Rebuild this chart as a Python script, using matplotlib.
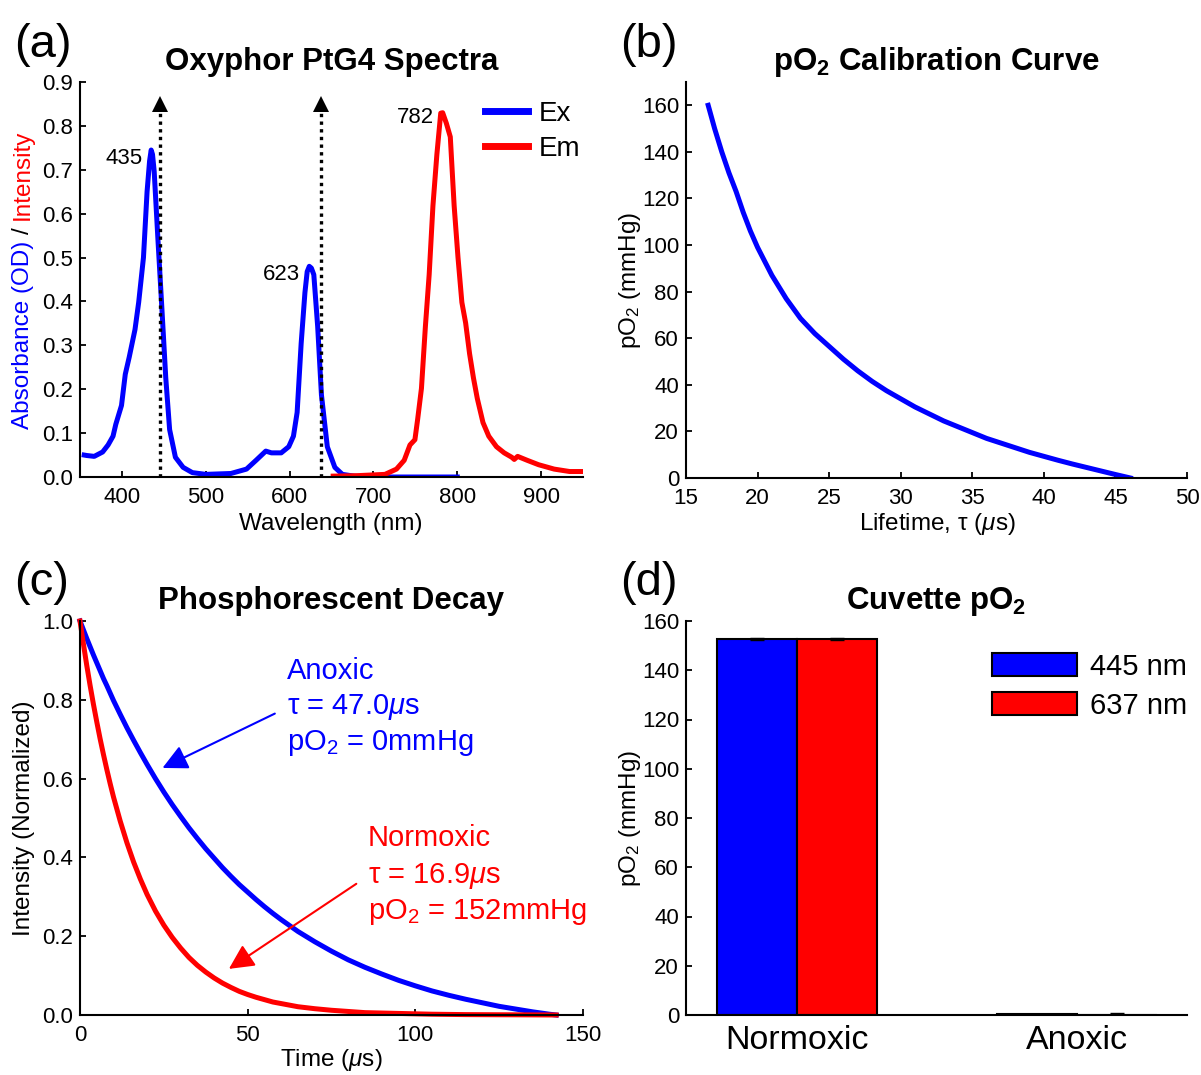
import numpy as np
import matplotlib
matplotlib.use("Agg")
import matplotlib.pyplot as plt
from matplotlib.lines import Line2D

plt.rcParams['font.family'] = ['Liberation Sans', 'DejaVu Sans']
plt.rcParams['mathtext.fontset'] = 'custom'
plt.rcParams['mathtext.rm'] = 'Liberation Sans'
plt.rcParams['mathtext.it'] = 'Liberation Sans:italic'
plt.rcParams['mathtext.bf'] = 'Liberation Sans:bold'

# (a) absorbance / emission spectra
ex_wl = [355, 358, 367, 377, 383.5, 389.4, 392.7, 399.5, 404, 408.7, 415.6, 420, 425.7, 430,
         433, 434.9, 436.5, 438.5, 443, 447.7, 452.3, 456.9, 463.8, 473, 484, 500, 530, 548.6,
         560, 571.6, 578.4, 590, 599, 604.6, 609, 613.8, 618.3, 621, 623.5, 626, 628.9, 633.5,
         638, 645, 654, 663, 677, 700, 800]
ex_od = [0.05, 0.049, 0.047, 0.057, 0.073, 0.093, 0.12, 0.163, 0.234, 0.273, 0.336, 0.398, 0.50,
         0.65, 0.72, 0.745, 0.735, 0.696, 0.54, 0.383, 0.226, 0.108, 0.045, 0.022, 0.010, 0.006,
         0.008, 0.018, 0.038, 0.059, 0.055, 0.055, 0.069, 0.093, 0.147, 0.304, 0.42, 0.468,
         0.48, 0.476, 0.461, 0.343, 0.187, 0.069, 0.022, 0.006, 0.002, 0.0, 0.0]
em_wl = [652, 680, 713.8, 727.5, 736.7, 743.6, 749.5, 752.8, 757.3, 762, 766.5, 771, 775.7,
         780.3, 782.6, 787, 791.7, 796.3, 800.9, 805.5, 810, 814.7, 819.3, 823.9, 830.7, 837.6,
         846.8, 856, 865, 868, 872, 883.5, 897, 915.6, 934, 950]
em_int = [0.002, 0.003, 0.006, 0.018, 0.038, 0.073, 0.085, 0.132, 0.202, 0.343, 0.461, 0.618,
          0.735, 0.829, 0.83, 0.806, 0.775, 0.618, 0.50, 0.398, 0.351, 0.281, 0.226, 0.179,
          0.124, 0.093, 0.069, 0.055, 0.045, 0.040, 0.047, 0.038, 0.028, 0.018, 0.0125, 0.0125]
peak_wl = [435, 623, 782]
peak_val = [0.725, 0.462, 0.818]
laser_wl = [445, 637]

# (b) calibration curve
tau = [16.55, 17.0, 17.5, 18.0, 18.5, 19.0, 19.5, 20.0, 21.0, 22.0, 23.0, 24.0, 25.0, 26.0,
       27.0, 28.0, 29.0, 30.0, 31.0, 32.0, 33.0, 34.0, 35.0, 36.0, 37.0, 38.0, 39.0, 40.0,
       41.0, 42.0, 43.0, 44.0, 45.0, 46.05]
po2 = [160, 150, 140, 131, 123, 114, 106, 99, 87, 77, 68.5, 62, 56.5, 51, 46, 41.5, 37.5, 34,
       30.5, 27.5, 24.5, 22, 19.5, 17, 15, 13, 11, 9.3, 7.6, 6, 4.5, 3, 1.5, 0.0]

# (c) decay curves
t_us = [0, 1, 2, 3, 4, 5, 6, 7, 8, 9, 10, 12, 14, 16, 18, 20, 22.5, 25, 27.5, 30, 32.5, 35,
        37.5, 40, 42.5, 45, 47.5, 50, 52.5, 55, 57.5, 60, 65, 70, 75, 80, 85, 90, 95, 100,
        105, 110, 115, 120, 125, 130, 135, 140, 142]
anoxic = [1.0, 0.978, 0.956, 0.935, 0.914, 0.894, 0.874, 0.854, 0.836, 0.817, 0.798, 0.763,
          0.729, 0.697, 0.666, 0.636, 0.600, 0.566, 0.534, 0.504, 0.475, 0.448, 0.422, 0.398,
          0.374, 0.352, 0.331, 0.312, 0.293, 0.275, 0.258, 0.242, 0.212, 0.186, 0.162, 0.140,
          0.121, 0.104, 0.088, 0.074, 0.061, 0.050, 0.040, 0.031, 0.022, 0.015, 0.008, 0.002,
          0.0]
normoxic = [1.0, 0.943, 0.888, 0.837, 0.789, 0.744, 0.701, 0.661, 0.623, 0.587, 0.553, 0.492,
            0.437, 0.388, 0.345, 0.306, 0.264, 0.228, 0.197, 0.170, 0.146, 0.126, 0.109,
            0.094, 0.081, 0.070, 0.060, 0.052, 0.045, 0.039, 0.033, 0.029, 0.021, 0.016,
            0.012, 0.009, 0.006, 0.005, 0.004, 0.003, 0.002, 0.0015, 0.001, 0.0008, 0.0006,
            0.0005, 0.0003, 0.0001, 0.0]

# (d) cuvette pO2
conditions = ['Normoxic', 'Anoxic']
po2_445 = [152.6, 0.3]
po2_637 = [152.6, 0.2]
err_445 = [0.3, 0.2]
err_637 = [0.3, 0.5]

BLUE = (0, 0, 1)
RED = (1, 0, 0)
TICK_FS = 16
LAB_FS = 17.5
TITLE_FS = 22.5

fig = plt.figure(figsize=(12.01, 10.75), dpi=100)
W, H = 1201, 1075


def px_axes(l, t, r, b):
    return fig.add_axes([l / W, 1 - b / H, (r - l) / W, (b - t) / H])


def style(ax):
    for s in ['top', 'right']:
        ax.spines[s].set_visible(False)
    for s in ['left', 'bottom']:
        ax.spines[s].set_linewidth(1.5)
    ax.tick_params(direction='in', length=4.3, width=1.3, labelsize=TICK_FS)
    ax.tick_params(axis='x', pad=7)
    ax.tick_params(axis='y', pad=5)


def ylabel_parts(ax, parts, x_px, fs=LAB_FS):
    r = fig.canvas.get_renderer()
    texts = [fig.text(0, 0, s, color=c, fontsize=fs, rotation=90, ha='center', va='bottom')
             for s, c in parts]
    hs = [t.get_window_extent(r).height for t in texts]
    gap = 0.278 * fs * fig.dpi / 72
    total = sum(hs) + gap * (len(parts) - 1)
    bb = ax.get_position()
    y = (bb.y0 + bb.y1) / 2 * H - total / 2
    for t, h in zip(texts, hs):
        t.set_position((x_px / W, y / H))
        y += h + gap


def xlabel_at(text, x_px, y_px, fs=LAB_FS):
    fig.text(x_px / W, 1 - y_px / H, text, fontsize=fs, ha='center', va='center')


axa = px_axes(80, 82, 583, 477)
axb = px_axes(686, 82, 1187, 478)
axc = px_axes(80, 621, 583, 1015)
axd = px_axes(686, 621, 1187, 1015)

# ---- (a)
style(axa)
axa.plot(ex_wl, ex_od, color=BLUE, lw=3.6, solid_joinstyle='round')
axa.plot(em_wl, em_int, color=RED, lw=3.6, solid_joinstyle='round')
for wl in laser_wl:
    axa.plot([wl, wl], [0, 0.835], color='k', lw=2.4, dashes=(1.0, 1.3))
    axa.plot([wl], [0.849], marker='^', color='k', markersize=12, markeredgewidth=0)
for wl, v in zip(peak_wl, peak_val):
    axa.text(wl - 10, v, str(wl), fontsize=TICK_FS, ha='right', va='center')
axa.set_xlim(350, 950)
axa.set_ylim(0, 0.9)
axa.set_xticks([400, 500, 600, 700, 800, 900])
axa.set_yticks(np.arange(0, 0.91, 0.1))
axa.set_yticklabels(['%.1f' % v for v in np.arange(0, 0.91, 0.1)])
axa.set_title('Oxyphor PtG4 Spectra', fontsize=TITLE_FS, fontweight='bold', pad=8.5)
axa.legend(handles=[Line2D([], [], color=BLUE, lw=5), Line2D([], [], color=RED, lw=5)],
           labels=['Ex', 'Em'], loc='upper right', bbox_to_anchor=(0.995, 0.952),
           frameon=False, fontsize=20, handlelength=1.55, handletextpad=0.4,
           labelspacing=0.33, borderaxespad=0, borderpad=0)
ylabel_parts(axa, [('Absorbance (OD)', BLUE), ('/', 'k'), ('Intensity', RED)], 23)
xlabel_at('Wavelength (nm)', 331, 524)

# ---- (b)
style(axb)
axb.plot(tau, po2, color=BLUE, lw=3.6)
axb.set_xlim(15, 50)
axb.set_ylim(0, 170)
axb.set_xticks(range(15, 51, 5))
axb.set_yticks(range(0, 161, 20))
axb.set_title(r'pO$_\mathbf{2}$ Calibration Curve', fontsize=TITLE_FS, fontweight='bold', pad=8.5)
ylabel_parts(axb, [(r'pO$_2$ (mmHg)', 'k')], 630)
xlabel_at(r'Lifetime, τ ($\mu$s)', 937, 524)

# ---- (c)
style(axc)
axc.plot(t_us, anoxic, color=BLUE, lw=3.6, clip_on=False)
axc.plot(t_us, normoxic, color=RED, lw=3.6, clip_on=False)
axc.set_xlim(0, 150)
axc.set_ylim(0, 1)
axc.set_xticks([0, 50, 100, 150])
axc.set_yticks(np.arange(0, 1.01, 0.2))
axc.set_yticklabels(['%.1f' % v for v in np.arange(0, 1.01, 0.2)])
axc.set_title('Phosphorescent Decay', fontsize=TITLE_FS, fontweight='bold', pad=8.5)
arrow_style = '-|>,head_length=0.4,head_width=0.2'
axc.annotate('', xy=(24.6, 0.627), xytext=(58.1, 0.765),
             arrowprops=dict(arrowstyle=arrow_style, color=BLUE, lw=1.5,
                             mutation_scale=38, shrinkA=0, shrinkB=0))
axc.annotate('', xy=(44.4, 0.117), xytext=(82.4, 0.333),
             arrowprops=dict(arrowstyle=arrow_style, color=RED, lw=1.5,
                             mutation_scale=38, shrinkA=0, shrinkB=0))
for i, s in enumerate(['Anoxic', r'τ = 47.0$\mu$s', r'pO$_2$ = 0mmHg']):
    axc.text(61.7, [0.873, 0.782, 0.690][i], s, color=BLUE, fontsize=21, ha='left', va='center')
for i, s in enumerate(['Normoxic', r'τ = 16.9$\mu$s', r'pO$_2$ = 152mmHg']):
    axc.text(85.9, [0.449, 0.353, 0.261][i], s, color=RED, fontsize=21, ha='left', va='center')
ylabel_parts(axc, [('Intensity (Normalized)', 'k')], 24)
xlabel_at(r'Time ($\mu$s)', 331, 1060)

# ---- (d)
style(axd)
x = np.arange(1, len(conditions) + 1)
w = 0.285
axd.bar(x - w / 2, po2_445, w, color=BLUE, edgecolor='k', lw=1.5, label='445 nm')
axd.bar(x + w / 2, po2_637, w, color=RED, edgecolor='k', lw=1.5, label='637 nm')
axd.errorbar(x - w / 2, po2_445, yerr=err_445, fmt='none', ecolor='k', capsize=5, lw=1)
axd.errorbar(x + w / 2, po2_637, yerr=err_637, fmt='none', ecolor='k', capsize=5, lw=1)
axd.set_xlim(0.604, 2.393)
axd.set_ylim(0, 160)
axd.set_xticks(x)
axd.set_xticklabels(conditions, fontsize=24.5)
axd.tick_params(axis='x', length=0)
axd.set_yticks(range(0, 161, 20))
axd.set_title(r'Cuvette pO$_\mathbf{2}$', fontsize=TITLE_FS, fontweight='bold', pad=8.5)
axd.legend(loc='upper right', bbox_to_anchor=(1.0, 0.92), frameon=False, fontsize=21,
           handlelength=2.9, handleheight=0.86, handletextpad=0.45, labelspacing=0.38,
           borderaxespad=0, borderpad=0)
ylabel_parts(axd, [(r'pO$_2$ (mmHg)', 'k')], 630)

for lab, xp, yp in [('(a)', 14, 57), ('(b)', 620, 57), ('(c)', 14, 595), ('(d)', 620, 595)]:
    fig.text(xp / W, 1 - yp / H, lab, fontsize=34, ha='left', va='baseline')

fig.savefig('out.png', dpi=100)
